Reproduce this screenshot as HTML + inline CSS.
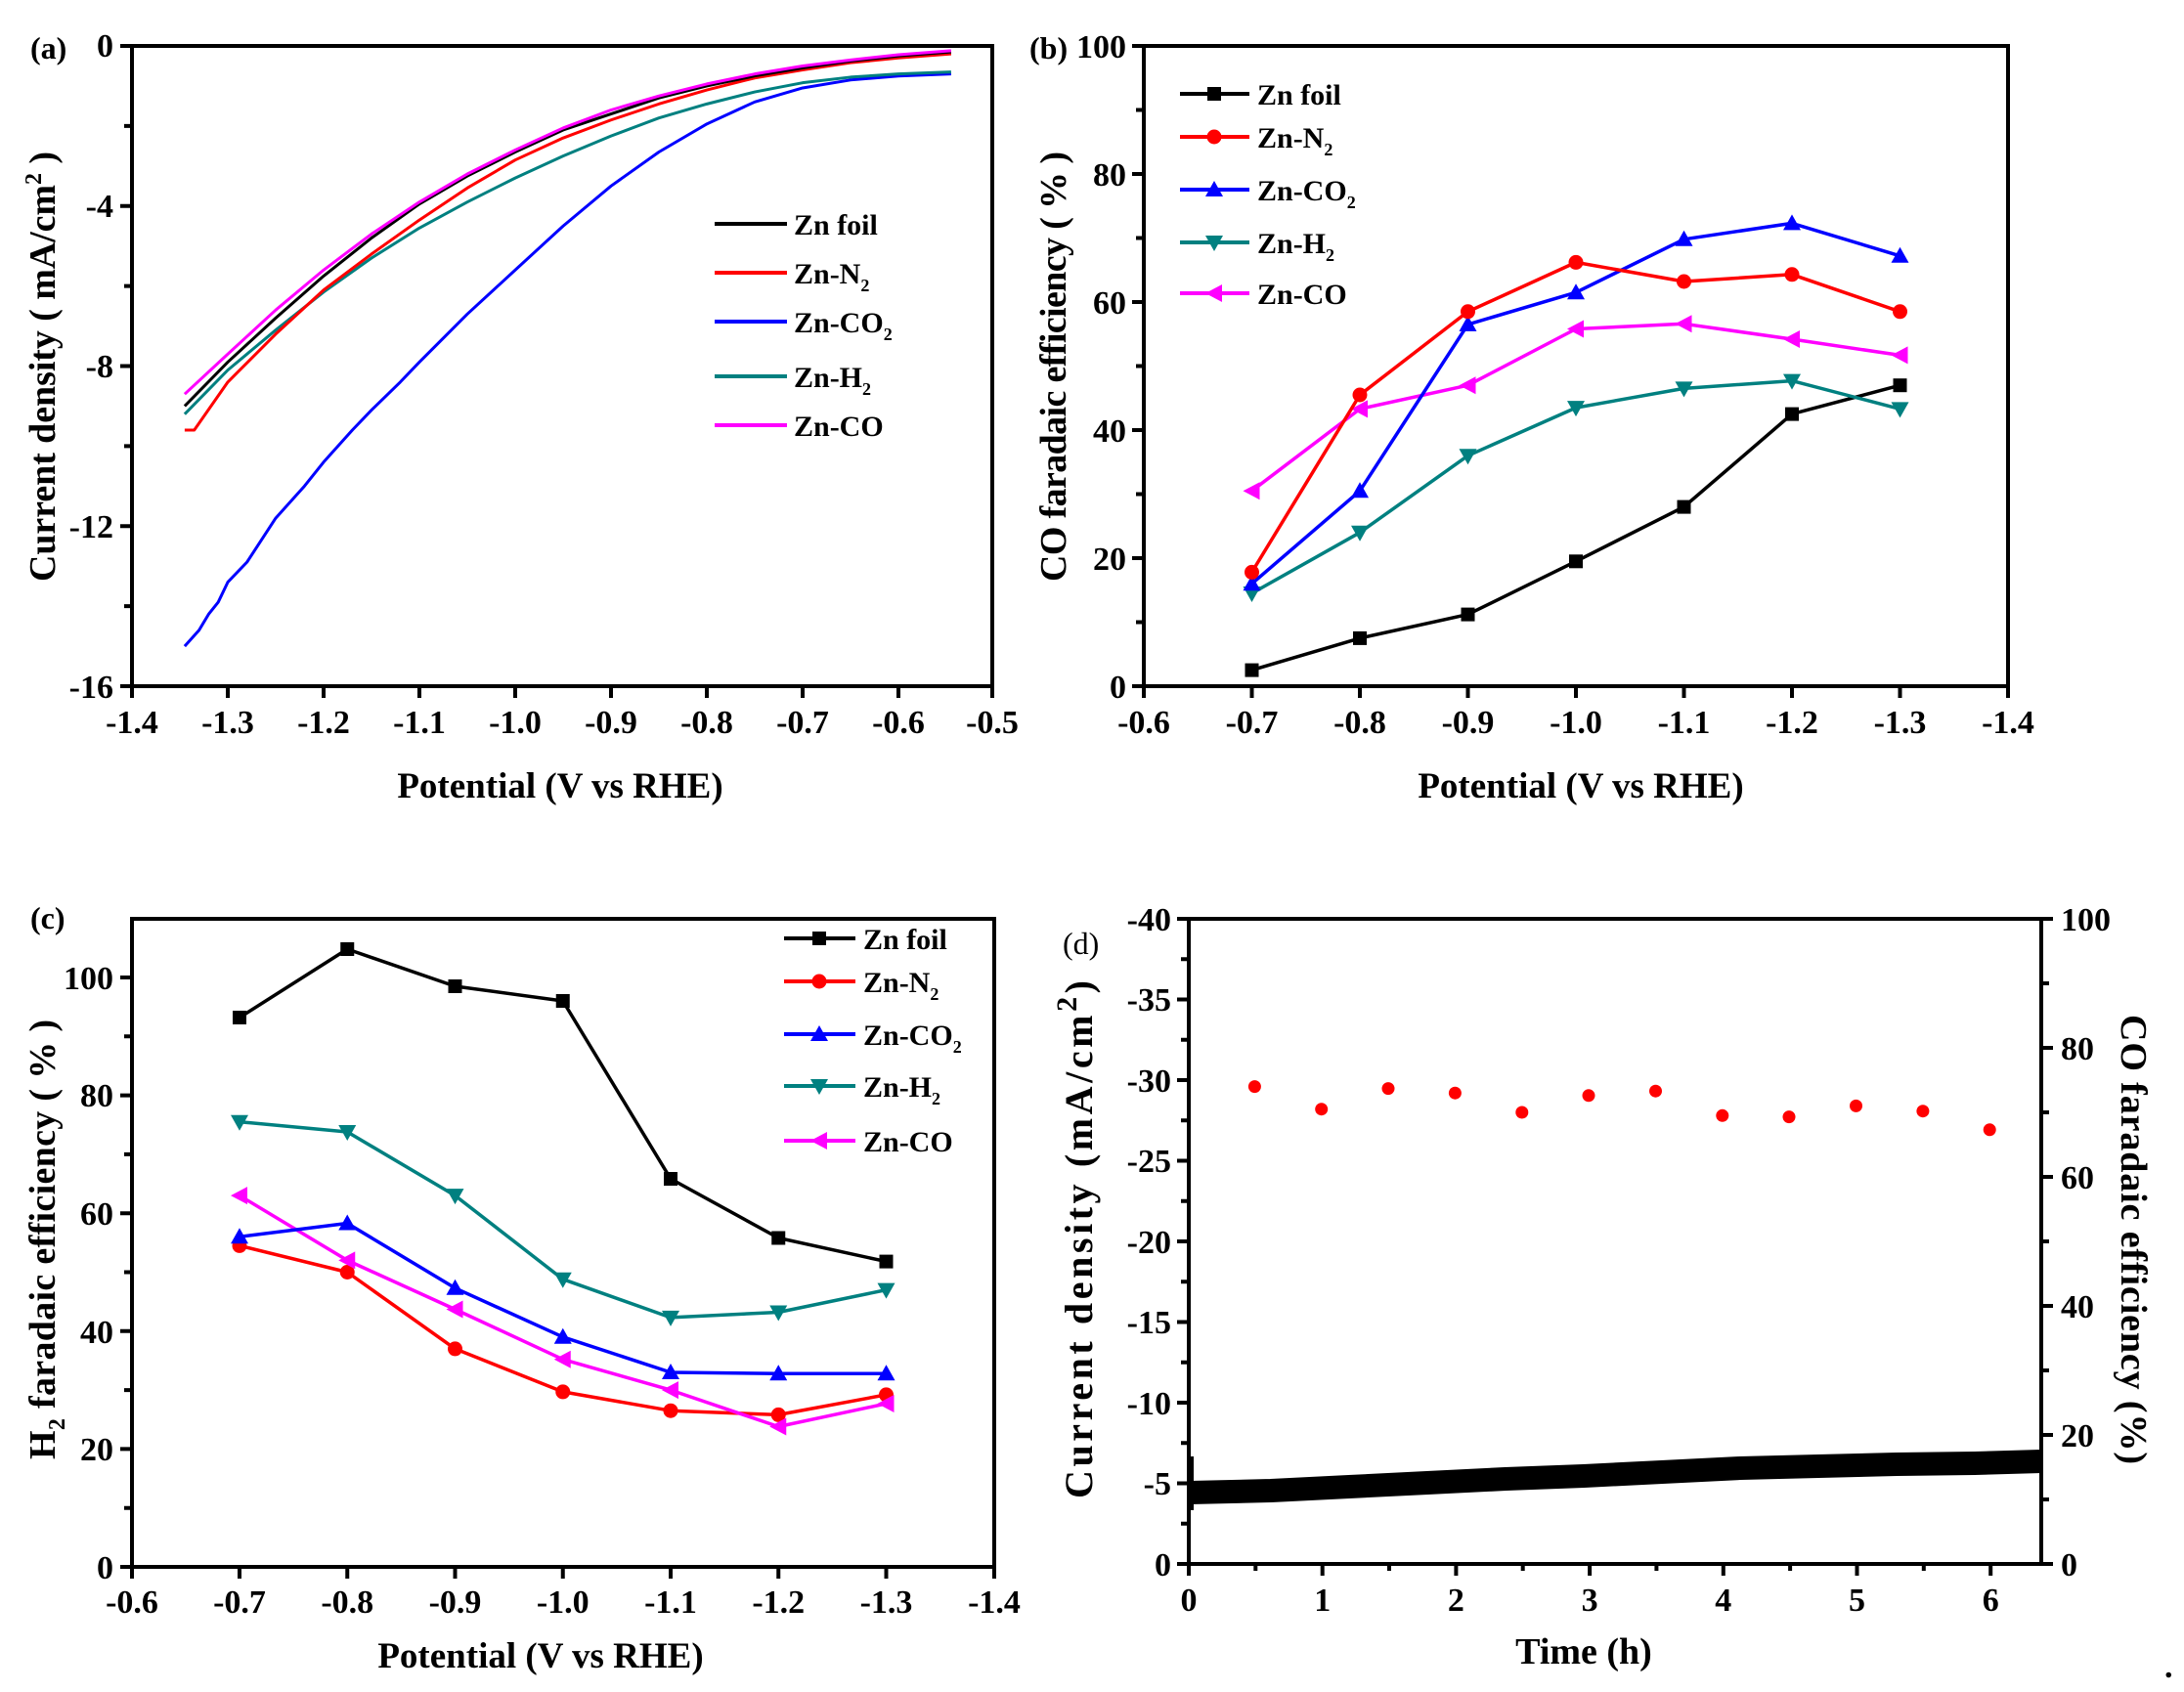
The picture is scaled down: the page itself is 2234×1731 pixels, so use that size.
<!DOCTYPE html>
<html><head><meta charset="utf-8"><style>
html,body{margin:0;padding:0;background:#fff}
svg{display:block}
text{font-family:"Liberation Serif",serif;font-weight:bold;fill:#000}
</style></head><body>
<svg width="2234" height="1731" viewBox="0 0 2234 1731" xmlns="http://www.w3.org/2000/svg">
<defs>
<marker id="sq" markerUnits="userSpaceOnUse" markerWidth="20" markerHeight="20" refX="10" refY="10"><rect x="3" y="3" width="14" height="14" fill="#000"/></marker>
<marker id="ci" markerUnits="userSpaceOnUse" markerWidth="20" markerHeight="20" refX="10" refY="10"><circle cx="10" cy="10" r="7.5" fill="#f00"/></marker>
<marker id="tu" markerUnits="userSpaceOnUse" markerWidth="20" markerHeight="20" refX="10" refY="10"><path d="M10 1 L19 17 L1 17Z" fill="#00f"/></marker>
<marker id="td" markerUnits="userSpaceOnUse" markerWidth="20" markerHeight="20" refX="10" refY="10"><path d="M1 3 L19 3 L10 19Z" fill="#008080"/></marker>
<marker id="tl" markerUnits="userSpaceOnUse" markerWidth="20" markerHeight="20" refX="10" refY="10"><path d="M1 10 L18 1 L18 19Z" fill="#f0f"/></marker>
</defs>

<!-- ================= PANEL A ================= -->
<g fill="none" stroke-width="3" stroke-linejoin="round">
<polyline vector-effect="non-scaling-stroke" transform="matrix(980 0 0 -40.94 1507 47)" stroke="#0000ff" points="-1.345,-15.0 -1.33,-14.6 -1.32,-14.2 -1.31,-13.9 -1.3,-13.4 -1.28,-12.9 -1.25,-11.8 -1.22,-11.0 -1.2,-10.4 -1.17,-9.6 -1.15,-9.1 -1.12,-8.4 -1.1,-7.9 -1.05,-6.7 -1.0,-5.6 -0.95,-4.5 -0.9,-3.5 -0.85,-2.65 -0.8,-1.95 -0.75,-1.4 -0.7,-1.05 -0.65,-0.85 -0.6,-0.75 -0.545,-0.7"/>
<polyline vector-effect="non-scaling-stroke" transform="matrix(980 0 0 -40.94 1507 47)" stroke="#008080" points="-1.345,-9.2 -1.3,-8.1 -1.25,-7.1 -1.2,-6.15 -1.15,-5.3 -1.1,-4.55 -1.05,-3.9 -1.0,-3.3 -0.95,-2.75 -0.9,-2.25 -0.85,-1.8 -0.8,-1.45 -0.75,-1.15 -0.7,-0.92 -0.65,-0.78 -0.6,-0.7 -0.545,-0.65"/>
<polyline vector-effect="non-scaling-stroke" transform="matrix(980 0 0 -40.94 1507 47)" stroke="#ff0000" points="-1.345,-9.6 -1.335,-9.6 -1.3,-8.4 -1.25,-7.2 -1.2,-6.1 -1.15,-5.2 -1.1,-4.35 -1.05,-3.55 -1.0,-2.85 -0.95,-2.3 -0.9,-1.85 -0.85,-1.45 -0.8,-1.1 -0.75,-0.8 -0.7,-0.6 -0.65,-0.42 -0.6,-0.3 -0.545,-0.2"/>
<polyline vector-effect="non-scaling-stroke" transform="matrix(980 0 0 -40.94 1507 47)" stroke="#000" points="-1.345,-9.0 -1.3,-7.9 -1.25,-6.8 -1.2,-5.75 -1.15,-4.8 -1.1,-3.95 -1.05,-3.25 -1.0,-2.65 -0.95,-2.1 -0.9,-1.7 -0.85,-1.3 -0.8,-1.0 -0.75,-0.75 -0.7,-0.55 -0.65,-0.38 -0.6,-0.25 -0.545,-0.15"/>
<polyline vector-effect="non-scaling-stroke" transform="matrix(980 0 0 -40.94 1507 47)" stroke="#ff00ff" points="-1.345,-8.7 -1.3,-7.7 -1.25,-6.6 -1.2,-5.6 -1.15,-4.7 -1.1,-3.9 -1.05,-3.2 -1.0,-2.6 -0.95,-2.05 -0.9,-1.6 -0.85,-1.25 -0.8,-0.95 -0.75,-0.7 -0.7,-0.5 -0.65,-0.35 -0.6,-0.22 -0.545,-0.12"/>
</g>
<rect x="135" y="47" width="880" height="655" fill="none" stroke="#000" stroke-width="4"/>
<g stroke="#000" stroke-width="4">
<path d="M135 702v12 M233 702v12 M331 702v12 M429 702v12 M527 702v12 M625 702v12 M723 702v12 M821 702v12 M919 702v12 M1015 702v12"/>
<path d="M135 47h-12 M135 210.75h-12 M135 374.5h-12 M135 538.25h-12 M135 702h-12"/>
<path d="M135 128.9h-8 M135 292.6h-8 M135 456.4h-8 M135 620.1h-8"/>
</g>
<g font-size="34" text-anchor="middle">
<text x="135" y="750">-1.4</text><text x="233" y="750">-1.3</text><text x="331" y="750">-1.2</text><text x="429" y="750">-1.1</text><text x="527" y="750">-1.0</text><text x="625" y="750">-0.9</text><text x="723" y="750">-0.8</text><text x="821" y="750">-0.7</text><text x="919" y="750">-0.6</text><text x="1015" y="750">-0.5</text>
</g>
<g font-size="34" text-anchor="end">
<text x="116" y="58">0</text><text x="116" y="222">-4</text><text x="116" y="386">-8</text><text x="116" y="550">-12</text><text x="116" y="714">-16</text>
</g>
<text x="31" y="60" font-size="32">(a)</text>
<text x="573" y="816" font-size="37" text-anchor="middle">Potential (V vs RHE)</text>
<text transform="translate(56,375) rotate(-90)" font-size="38" text-anchor="middle" textLength="440">Current density ( mA/cm<tspan dy="-14" font-size="24">2</tspan><tspan dy="14"> )</tspan></text>
<g stroke-width="4">
<path d="M731 229h74" stroke="#000"/><path d="M731 279h74" stroke="#f00"/><path d="M731 329h74" stroke="#00f"/><path d="M731 385h74" stroke="#008080"/><path d="M731 435h74" stroke="#f0f"/>
</g>
<g font-size="30">
<text x="812" y="240">Zn foil</text>
<text x="812" y="290">Zn-N<tspan font-size="18" dy="8">2</tspan></text>
<text x="812" y="340">Zn-CO<tspan font-size="18" dy="8">2</tspan></text>
<text x="812" y="396">Zn-H<tspan font-size="18" dy="8">2</tspan></text>
<text x="812" y="446">Zn-CO</text>
</g>

<!-- ================= PANEL B ================= -->
<g fill="none" stroke-width="3.5" stroke-linejoin="round">
<polyline stroke="#000" marker-start="url(#sq)" marker-mid="url(#sq)" marker-end="url(#sq)" points="1280.5,685.6 1391,652.9 1501.5,628.6 1612,574.3 1722.5,518.6 1833,423.6 1943.5,394.2"/>
<polyline stroke="#008080" marker-start="url(#td)" marker-mid="url(#td)" marker-end="url(#td)" points="1280.5,607 1391,544.8 1501.5,466.2 1612,417.1 1722.5,397.4 1833,389.6 1943.5,418.4"/>
<polyline stroke="#ff00ff" marker-start="url(#tl)" marker-mid="url(#tl)" marker-end="url(#tl)" points="1280.5,502.2 1391,418.4 1501.5,394.2 1612,336.5 1722.5,331.3 1833,347 1943.5,363.4"/>
<polyline stroke="#0000ff" marker-start="url(#tu)" marker-mid="url(#tu)" marker-end="url(#tu)" points="1280.5,597.2 1391,502.2 1501.5,331.9 1612,299.2 1722.5,244.8 1833,228.4 1943.5,261.8"/>
<polyline stroke="#ff0000" marker-start="url(#ci)" marker-mid="url(#ci)" marker-end="url(#ci)" points="1280.5,585.4 1391,404 1501.5,318.8 1612,268.4 1722.5,288 1833,280.8 1943.5,318.8"/>
</g>
<rect x="1170" y="47" width="884" height="655" fill="none" stroke="#000" stroke-width="4"/>
<g stroke="#000" stroke-width="4">
<path d="M1170 702v12 M1280.5 702v12 M1391 702v12 M1501.5 702v12 M1612 702v12 M1722.5 702v12 M1833 702v12 M1943.5 702v12 M2054 702v12"/>
<path d="M1170 47h-12 M1170 178h-12 M1170 309h-12 M1170 440h-12 M1170 571h-12 M1170 702h-12"/>
<path d="M1170 112.5h-8 M1170 243.5h-8 M1170 374.5h-8 M1170 505.5h-8 M1170 636.5h-8"/>
</g>
<g font-size="34" text-anchor="middle">
<text x="1170" y="750">-0.6</text><text x="1280.5" y="750">-0.7</text><text x="1391" y="750">-0.8</text><text x="1501.5" y="750">-0.9</text><text x="1612" y="750">-1.0</text><text x="1722.5" y="750">-1.1</text><text x="1833" y="750">-1.2</text><text x="1943.5" y="750">-1.3</text><text x="2054" y="750">-1.4</text>
</g>
<g font-size="34" text-anchor="end">
<text x="1152" y="59">100</text><text x="1152" y="190">80</text><text x="1152" y="321">60</text><text x="1152" y="452">40</text><text x="1152" y="583">20</text><text x="1152" y="714">0</text>
</g>
<text x="1053" y="60" font-size="32">(b)</text>
<text x="1617" y="816" font-size="37" text-anchor="middle">Potential (V vs RHE)</text>
<text transform="translate(1090,375) rotate(-90)" font-size="38" text-anchor="middle" textLength="440">CO faradaic efficiency ( % )</text>
<g fill="none" stroke-width="4">
<polyline points="1207,96 1242,96 1278,96" stroke="#000" marker-mid="url(#sq)"/>
<polyline points="1207,140 1242,140 1278,140" stroke="#f00" marker-mid="url(#ci)"/>
<polyline points="1207,194 1242,194 1278,194" stroke="#00f" marker-mid="url(#tu)"/>
<polyline points="1207,248 1242,248 1278,248" stroke="#008080" marker-mid="url(#td)"/>
<polyline points="1207,300 1242,300 1278,300" stroke="#f0f" marker-mid="url(#tl)"/>
</g>
<g font-size="30">
<text x="1286" y="107">Zn foil</text>
<text x="1286" y="151">Zn-N<tspan font-size="18" dy="8">2</tspan></text>
<text x="1286" y="205">Zn-CO<tspan font-size="18" dy="8">2</tspan></text>
<text x="1286" y="259">Zn-H<tspan font-size="18" dy="8">2</tspan></text>
<text x="1286" y="311">Zn-CO</text>
</g>

<!-- ================= PANEL C ================= -->
<g fill="none" stroke-width="3.5" stroke-linejoin="round">
<polyline stroke="#ff0000" marker-start="url(#ci)" marker-mid="url(#ci)" marker-end="url(#ci)" points="245,1274.4 355.25,1301.5 465.5,1379.9 575.75,1423.9 686,1443.2 796.25,1447.4 906.5,1426.9"/>
<polyline stroke="#ff00ff" marker-start="url(#tl)" marker-mid="url(#tl)" marker-end="url(#tl)" points="245,1223.1 355.25,1289.4 465.5,1339.5 575.75,1390.7 686,1422.1 796.25,1459.5 906.5,1436"/>
<polyline stroke="#0000ff" marker-start="url(#tu)" marker-mid="url(#tu)" marker-end="url(#tu)" points="245,1265.3 355.25,1251.5 465.5,1317.8 575.75,1367.8 686,1404 796.25,1405.2 906.5,1405.2"/>
<polyline stroke="#008080" marker-start="url(#td)" marker-mid="url(#td)" marker-end="url(#td)" points="245,1147.7 355.25,1158 465.5,1223.1 575.75,1308.7 686,1347.9 796.25,1342.5 906.5,1319.6"/>
<polyline stroke="#000" marker-start="url(#sq)" marker-mid="url(#sq)" marker-end="url(#sq)" points="245,1041 355.25,971 465.5,1009 575.75,1024 686,1206 796.25,1266.5 906.5,1290.6"/>
</g>
<rect x="135" y="940" width="882" height="663" fill="none" stroke="#000" stroke-width="4"/>
<g stroke="#000" stroke-width="4">
<path d="M135 1603v12 M245 1603v12 M355.25 1603v12 M465.5 1603v12 M575.75 1603v12 M686 1603v12 M796.25 1603v12 M906.5 1603v12 M1017 1603v12"/>
<path d="M135 1603h-12 M135 1482.4h-12 M135 1361.8h-12 M135 1241.2h-12 M135 1120.6h-12 M135 1000h-12"/>
<path d="M135 1542.7h-8 M135 1422.1h-8 M135 1301.5h-8 M135 1180.9h-8 M135 1060.3h-8"/>
</g>
<g font-size="34" text-anchor="middle">
<text x="135" y="1650">-0.6</text><text x="245" y="1650">-0.7</text><text x="355.25" y="1650">-0.8</text><text x="465.5" y="1650">-0.9</text><text x="575.75" y="1650">-1.0</text><text x="686" y="1650">-1.1</text><text x="796.25" y="1650">-1.2</text><text x="906.5" y="1650">-1.3</text><text x="1017" y="1650">-1.4</text>
</g>
<g font-size="34" text-anchor="end">
<text x="116" y="1615">0</text><text x="116" y="1494">20</text><text x="116" y="1374">40</text><text x="116" y="1253">60</text><text x="116" y="1132">80</text><text x="116" y="1012">100</text>
</g>
<text x="31" y="950" font-size="32">(c)</text>
<text x="553" y="1706" font-size="37" text-anchor="middle">Potential (V vs RHE)</text>
<text transform="translate(56,1268) rotate(-90)" font-size="38" text-anchor="middle" textLength="450">H<tspan font-size="24" dy="10">2</tspan><tspan dy="-10"> faradaic efficiency ( % )</tspan></text>
<g fill="none" stroke-width="4">
<polyline points="802,960 838,960 875,960" stroke="#000" marker-mid="url(#sq)"/>
<polyline points="802,1004 838,1004 875,1004" stroke="#f00" marker-mid="url(#ci)"/>
<polyline points="802,1058 838,1058 875,1058" stroke="#00f" marker-mid="url(#tu)"/>
<polyline points="802,1111 838,1111 875,1111" stroke="#008080" marker-mid="url(#td)"/>
<polyline points="802,1167 838,1167 875,1167" stroke="#f0f" marker-mid="url(#tl)"/>
</g>
<g font-size="30">
<text x="883" y="971">Zn foil</text>
<text x="883" y="1015">Zn-N<tspan font-size="18" dy="8">2</tspan></text>
<text x="883" y="1069">Zn-CO<tspan font-size="18" dy="8">2</tspan></text>
<text x="883" y="1122">Zn-H<tspan font-size="18" dy="8">2</tspan></text>
<text x="883" y="1178">Zn-CO</text>
</g>

<!-- ================= PANEL D ================= -->
<path d="M1217 1527 L1300 1525 L1380 1521 L1460 1517 L1540 1513 L1620 1510 L1700 1506 L1780 1502 L1860 1500 L1940 1498 L2020 1497 L2088 1495" fill="none" stroke="#000" stroke-width="24" stroke-linejoin="round"/>
<path d="M1219 1490 V1545" stroke="#000" stroke-width="4"/>
<g fill="#f00">
<circle cx="1283.4" cy="1111.6" r="6.5"/><circle cx="1351.7" cy="1134.7" r="6.5"/><circle cx="1420" cy="1113.6" r="6.5"/><circle cx="1488.4" cy="1118.2" r="6.5"/><circle cx="1556.8" cy="1138" r="6.5"/><circle cx="1625" cy="1120.8" r="6.5"/><circle cx="1693.5" cy="1116.2" r="6.5"/><circle cx="1761.8" cy="1141.3" r="6.5"/><circle cx="1830" cy="1142.6" r="6.5"/><circle cx="1898.5" cy="1131.4" r="6.5"/><circle cx="1966.9" cy="1136.7" r="6.5"/><circle cx="2035.2" cy="1155.8" r="6.5"/>
</g>
<rect x="1216" y="940" width="872" height="660" fill="none" stroke="#000" stroke-width="4"/>
<g stroke="#000" stroke-width="4">
<path d="M1216 1600v12 M1352.7 1600v12 M1489.4 1600v12 M1626.1 1600v12 M1762.8 1600v12 M1899.5 1600v12 M2036.2 1600v12"/>
<path d="M1284.3 1600v7 M1421 1600v7 M1557.7 1600v7 M1694.4 1600v7 M1831.1 1600v7 M1967.8 1600v7"/>
<path d="M1216 1600h-12 M1216 1517.5h-12 M1216 1435h-12 M1216 1352.5h-12 M1216 1270h-12 M1216 1187.5h-12 M1216 1105h-12 M1216 1022.5h-12 M1216 940h-12"/>
<path d="M1216 1558.8h-8 M1216 1476.3h-8 M1216 1393.8h-8 M1216 1311.3h-8 M1216 1228.8h-8 M1216 1146.3h-8 M1216 1063.8h-8 M1216 981.3h-8"/>
<path d="M2088 1600h12 M2088 1468h12 M2088 1336h12 M2088 1204h12 M2088 1072h12 M2088 940h12"/>
<path d="M2088 1534h8 M2088 1402h8 M2088 1270h8 M2088 1138h8 M2088 1006h8"/>
</g>
<g font-size="34" text-anchor="middle">
<text x="1216" y="1648">0</text><text x="1352.7" y="1648">1</text><text x="1489.4" y="1648">2</text><text x="1626.1" y="1648">3</text><text x="1762.8" y="1648">4</text><text x="1899.5" y="1648">5</text><text x="2036.2" y="1648">6</text>
</g>
<g font-size="34" text-anchor="end">
<text x="1198" y="1612">0</text><text x="1198" y="1529">-5</text><text x="1198" y="1447">-10</text><text x="1198" y="1364">-15</text><text x="1198" y="1282">-20</text><text x="1198" y="1199">-25</text><text x="1198" y="1117">-30</text><text x="1198" y="1034">-35</text><text x="1198" y="952">-40</text>
</g>
<g font-size="34" text-anchor="start">
<text x="2108" y="1612">0</text><text x="2108" y="1480">20</text><text x="2108" y="1348">40</text><text x="2108" y="1216">60</text><text x="2108" y="1084">80</text><text x="2108" y="952">100</text>
</g>
<text x="1087" y="976" font-size="32" style="font-weight:normal">(d)</text>
<text x="1620" y="1702" font-size="38" text-anchor="middle">Time (h)</text>
<text transform="translate(1117,1268) rotate(-90)" font-size="40" text-anchor="middle" textLength="530">Current density (mA/cm<tspan dy="-16" font-size="30">2</tspan><tspan dy="16">)</tspan></text>
<text transform="translate(2170,1268) rotate(90)" font-size="38" text-anchor="middle" textLength="460">CO faradaic efficiency (%)</text>
<text x="2214" y="1716" font-size="34">.</text>
</svg>
</body></html>
